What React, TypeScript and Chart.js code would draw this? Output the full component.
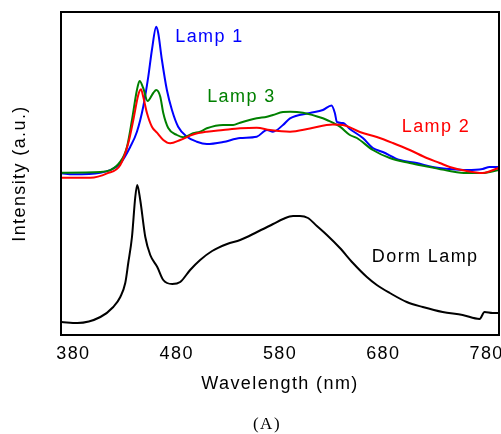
import React, { useEffect, useRef } from "react";
import { Chart, registerables } from "chart.js";

Chart.register(...registerables);

const W = 501;
const H = 434;

// x axis tick values (nm)
const xTicks = [380, 480, 580, 680, 780];

// Lamp 1 (blue)
const lamp1Wl = [368.4, 380, 406.1, 425.4, 435.1, 441.5, 447.6, 452.5, 456.0, 460.2, 462.1, 465.7, 470.5, 475.4, 481.4, 489.9, 499.5, 509.2, 524.9, 541.4, 557.5, 567.4, 573.2, 582.9, 589.7, 609.0, 621.5, 629.9, 633.1, 635.1, 640.9, 647.6, 660.2, 669.9, 679.5, 695.9, 712.4, 727.8, 744.3, 760.7, 776.1, 782.9, 791.6];
const lamp1Int = [161.7, 160.7, 162.3, 171.7, 188.3, 203.3, 228.3, 258.3, 285, 308.3, 302, 275, 245, 225, 208.3, 198.3, 193.3, 191, 193, 197, 198.3, 205, 203.3, 210, 216.7, 222, 225, 229.5, 222, 213, 212, 206, 197, 187, 183, 175, 172, 168, 166, 165, 166, 168, 168];

// Lamp 2 (red)
const lamp2Wl = [368.4, 396.4, 412.6, 425.4, 433.1, 438.0, 442.8, 445.4, 447.6, 451.2, 456.0, 460.9, 467.0, 473.7, 483.4, 495.9, 509.2, 524.9, 541.4, 557.5, 570.3, 589.7, 609.0, 631.2, 640.9, 657.3, 673.7, 689.2, 705.6, 722.0, 734.6, 744.3, 760.7, 776.1, 791.6];
const lamp2Int = [157.3, 157.3, 161.7, 170, 191.7, 215, 240, 245.7, 238.3, 222, 208.3, 202.3, 195, 191.7, 195, 200.5, 203.3, 205, 206.7, 207.3, 205, 203.3, 206.5, 210.5, 210, 203, 198, 192, 185, 177, 172, 168, 164, 162, 167];

// Lamp 3 (green)
const lamp3Wl = [368.4, 406.1, 425.4, 431.9, 436.7, 441.5, 444.1, 447.6, 451.8, 457.3, 460.2, 464.1, 467.0, 471.8, 480.2, 486.3, 495.9, 502.7, 509.2, 524.9, 534.6, 541.4, 557.5, 567.4, 573.2, 582.9, 589.7, 602.2, 621.5, 625.4, 638.0, 647.6, 654.4, 669.9, 686.3, 705.6, 724.9, 744.3, 760.7, 776.1, 791.6];
const lamp3Int = [162.3, 163, 173.3, 188.3, 215, 245, 254, 247, 234, 242, 245, 238.3, 222, 207, 200, 197.7, 201.7, 203.3, 206.7, 210, 210, 212.3, 216.7, 218.3, 220, 223, 223.3, 222.3, 216.7, 215, 208.3, 200, 197, 185, 177, 172, 168, 164, 162, 162, 165];

// Dorm Lamp (black)
const dormWl = [368.4, 383.9, 406.1, 418.6, 425.4, 430.2, 433.1, 436.7, 439.9, 441.8, 444.7, 449.6, 454.4, 461.2, 467.0, 475.7, 483.4, 493.0, 502.7, 514.3, 528.8, 541.4, 557.8, 573.3, 583.0, 592.6, 599.3, 607.1, 615.7, 625.4, 638.0, 650.6, 664.1, 673.7, 686.3, 702.7, 718.2, 737.5, 756.8, 773.2, 778.0, 785.8, 791.6];
const dormInt = [13, 12, 18, 28, 38, 52, 72, 98, 138, 150, 135, 98, 80, 68, 55, 51, 53, 65, 75, 84, 91, 95, 103, 111, 116, 119, 119, 117, 109, 100, 87, 72, 58, 50, 42, 33, 28, 23, 20, 16, 23, 22, 22];

// in-plot labels: text, colour, anchor (wavelength, intensity)
const labelTexts = ["Lamp 1", "Lamp 3", "Lamp 2", "Dorm Lamp"];
const labelColors = ["#0000ff", "#008000", "#ff0000", "#000000"];
const labelX = [478.6, 509.5, 697.9, 668.9];
const labelY = [293.5, 233.5, 203.5, 73.5];

const FONT = "'Liberation Sans', Arial, Helvetica, sans-serif";
const FS = 18;
const SPACING = "1.4px";

const toXY = (xs: number[], ys: number[]) => xs.map((x, i) => ({ x, y: ys[i] }));

export default function App() {
  const ref = useRef<HTMLCanvasElement>(null);

  useEffect(() => {
    const canvas = ref.current;
    if (!canvas) return;

    const deco = {
      id: "deco",
      beforeDraw(chart: any) {
        (chart.ctx as any).letterSpacing = SPACING;
      },
      afterDraw(chart: any) {
        const ctx = chart.ctx as CanvasRenderingContext2D;
        const a = chart.chartArea;
        const xs = chart.scales.x;
        const ys = chart.scales.y;
        ctx.save();
        ctx.strokeStyle = "#000";
        ctx.lineWidth = 2;
        ctx.strokeRect(a.left, a.top, a.right - a.left, a.bottom - a.top);
        (ctx as any).letterSpacing = SPACING;
        ctx.font = `${FS}px ${FONT}`;
        ctx.textAlign = "left";
        ctx.textBaseline = "alphabetic";
        labelTexts.forEach((t, i) => {
          ctx.fillStyle = labelColors[i];
          ctx.fillText(t, xs.getPixelForValue(labelX[i]), ys.getPixelForValue(labelY[i]));
        });
        (ctx as any).letterSpacing = "1.5px";
        ctx.font = `17px 'Liberation Serif', 'Times New Roman', serif`;
        ctx.fillStyle = "#000";
        ctx.textAlign = "center";
        ctx.textBaseline = "middle";
        ctx.fillText("(A)", 267, 425);
        ctx.restore();
      },
    };

    const mk = (label: string, xs: number[], ys: number[], color: string) => ({
      label,
      data: toXY(xs, ys),
      borderColor: color,
      backgroundColor: color,
      borderWidth: 2,
      pointRadius: 0,
      cubicInterpolationMode: "monotone" as const,
      fill: false,
    });

    const chart = new Chart(canvas, {
      type: "line",
      data: {
        datasets: [
          mk("Lamp 2", lamp2Wl, lamp2Int, "#ff0000"),
          mk("Lamp 3", lamp3Wl, lamp3Int, "#008000"),
          mk("Lamp 1", lamp1Wl, lamp1Int, "#0000ff"),
          mk("Dorm Lamp", dormWl, dormInt, "#000000"),
        ],
      },
      options: {
        animation: false,
        responsive: false,
        devicePixelRatio: 1,
        layout: { padding: { left: 0, top: 12, right: 2, bottom: 0 } },
        plugins: {
          legend: { display: false },
          tooltip: { enabled: false },
          title: { display: false },
        },
        scales: {
          x: {
            type: "linear",
            min: 368,
            max: 792,
            grid: { display: false, drawTicks: false },
            border: { display: false },
            afterBuildTicks: (axis: any) => {
              axis.ticks = xTicks.map((v) => ({ value: v }));
            },
            afterFit: (axis: any) => {
              axis.height = 99;
              axis.paddingLeft = 0;
              axis.paddingRight = 0;
            },
            ticks: {
              color: "#000",
              padding: 8,
              maxRotation: 0,
              autoSkip: false,
              font: { family: FONT, size: FS },
              callback: (v: any) => String(v),
            },
            title: {
              display: true,
              text: "Wavelength (nm)",
              color: "#000",
              font: { family: FONT, size: FS },
              padding: { top: 0, bottom: 39 },
            },
          },
          y: {
            type: "linear",
            min: 0,
            max: 323,
            grid: { display: false, drawTicks: false },
            border: { display: false },
            ticks: { display: false },
            afterFit: (axis: any) => {
              axis.width = 61;
              axis.paddingTop = 0;
              axis.paddingBottom = 0;
            },
            title: {
              display: true,
              text: "Intensity (a.u.)",
              color: "#000",
              font: { family: FONT, size: FS },
              padding: { top: 9, bottom: 0 },
            },
          },
        },
      },
      plugins: [deco],
    });

    return () => chart.destroy();
  }, []);

  return (
    <div style={{ position: "fixed", left: 0, top: 0, width: W, height: H, background: "#fff" }}>
      <canvas ref={ref} width={W} height={H} style={{ width: W, height: H, display: "block" }} />
    </div>
  );
}
